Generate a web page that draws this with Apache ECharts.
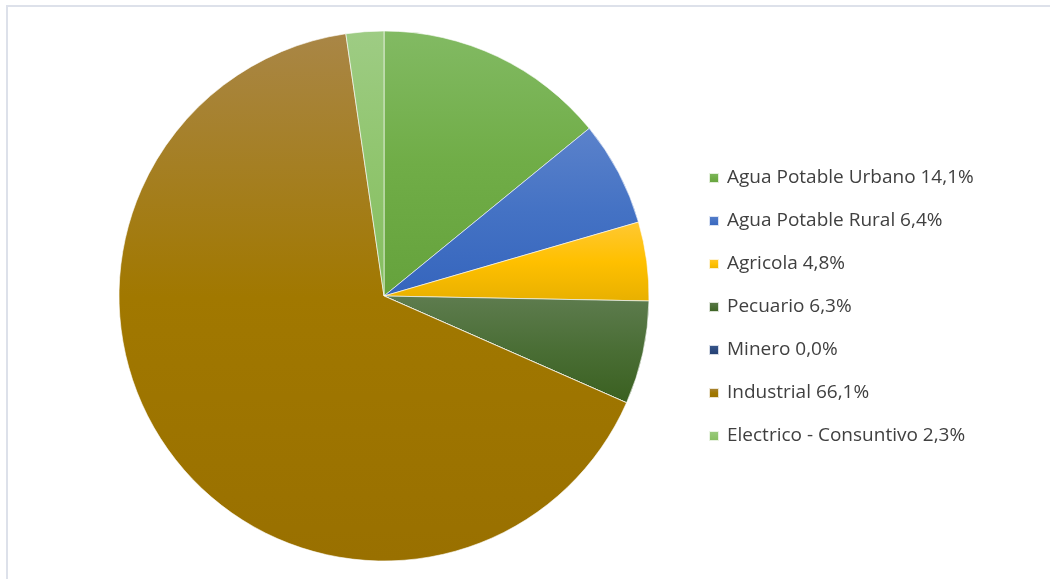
<!DOCTYPE html>
<html>
<head>
<meta charset="utf-8">
<script src="https://cdn.jsdelivr.net/npm/echarts@6/dist/echarts.min.js"></script>
<style>
  html, body { margin: 0; padding: 0; background: #ffffff; }
  #chart { width: 1050px; height: 579px; }
</style>
</head>
<body>
<div id="chart"></div>
<script>
// Distribución de usos del agua (%)
const categories = [
  'Agua Potable Urbano',
  'Agua Potable Rural',
  'Agricola',
  'Pecuario',
  'Minero',
  'Industrial',
  'Electrico - Consuntivo'
];
const shares = [14.1, 6.4, 4.8, 6.3, 0.0, 66.1, 2.3];

// Shading per slice: light top, base colour, darker bottom
const sliceTop    = ['#82ba63', '#5b82cb', '#ffc833', '#5e7c4f', '#3d5a8c', '#a98646', '#9ecc84'];
const sliceMid    = ['#70ad47', '#4472c4', '#ffc000', '#4a6e35', '#2c4a80', '#a17800', '#90c56e'];
const sliceBottom = ['#65a23c', '#3565bd', '#e8b000', '#3a6020', '#223c6c', '#997000', '#85bd5f'];

const fmt = v => v.toFixed(1).replace('.', ',') + '%';

const chart = echarts.init(document.getElementById('chart'), null, { renderer: 'canvas' });

const data = categories.map((name, i) => ({
  name: name,
  value: shares[i],
  itemStyle: {
    color: new echarts.graphic.LinearGradient(0, 0, 0, 1, [
      { offset: 0, color: sliceTop[i] },
      { offset: 0.5, color: sliceMid[i] },
      { offset: 1, color: sliceBottom[i] }
    ])
  }
}));

chart.setOption({
  animation: false,
  backgroundColor: '#ffffff',
  graphic: [{
    type: 'rect',
    shape: { x: 7, y: 6, width: 1100, height: 620 },
    style: { fill: 'none', stroke: '#dde1ea', lineWidth: 2 },
    silent: true,
    z: -10
  }],
  legend: {
    orient: 'vertical',
    left: 708,
    top: 168,
    padding: 0,
    icon: 'rect',
    itemWidth: 10,
    itemHeight: 10,
    itemGap: 23,
    selectedMode: false,
    textStyle: {
      fontFamily: 'Open Sans',
      fontSize: 19,
      lineHeight: 20,
      color: '#404040',
      padding: [0, 0, 0, 3]
    },
    formatter: name => name + ' ' + fmt(shares[categories.indexOf(name)]),
    data: categories
  },
  series: [{
    type: 'pie',
    center: [384, 296],
    radius: 265,
    startAngle: 90,
    clockwise: true,
    label: { show: false },
    labelLine: { show: false },
    emphasis: { disabled: true },
    itemStyle: { borderColor: 'rgba(255,255,255,0.8)', borderWidth: 0.75 },
    data: data
  }]
});
</script>
</body>
</html>
